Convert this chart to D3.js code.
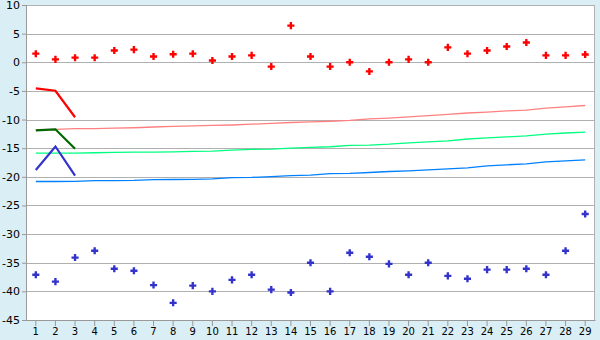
<!DOCTYPE html>
<html>
<head>
<meta charset="utf-8">
<script src="https://cdn.jsdelivr.net/npm/d3@7"></script>
<style>
  body { margin: 0; background: #d9eef5; }
  svg { display: block; font-family: Verdana, "DejaVu Sans", sans-serif; }
</style>
</head>
<body>
<div id="chart"></div>
<script>
// categories on the x axis
let categories = d3.range(1, 30);
let yTicks = [10, 5, 0, -5, -10, -15, -20, -25, -30, -35, -40, -45];

// scatter series
let redPoints = [1.5, 0.5, 0.8, 0.8, 2.05, 2.2, 1.0, 1.4, 1.5, 0.3, 1.0, 1.2, -0.75, 6.4, 1.0,
    -0.75, 0, -1.6, 0, 0.5, 0, 2.6, 1.5, 2.05, 2.75, 3.45, 1.2, 1.2, 1.35];
let bluePoints = [-37.1, -38.3, -34.1, -32.9, -36.05, -36.4, -38.9, -42.0, -39.0, -40.0, -38.0,
    -37.1, -39.7, -40.2, -35.0, -40.0, -33.25, -33.95, -35.2, -37.1, -35.0, -37.3, -37.8,
    -36.2, -36.2, -36.05, -37.1, -32.9, -26.5];

// short lines over the first three categories
let redShort = [-4.55, -4.97, -9.6];
let greenShort = [-11.9, -11.7, -15.1];
let blueShort = [-18.8, -14.7, -19.8];

// long trend lines
let pinkLine = [-11.75, -11.7, -11.6, -11.57, -11.5, -11.43, -11.3, -11.2, -11.1, -11.03, -10.95,
    -10.8, -10.68, -10.52, -10.4, -10.3, -10.15, -9.9, -9.75, -9.55, -9.33, -9.1, -8.86, -8.69,
    -8.5, -8.34, -8.0, -7.8, -7.55];
let greenLine = [-15.87, -15.87, -15.85, -15.8, -15.72, -15.7, -15.68, -15.65, -15.55, -15.5, -15.35,
    -15.2, -15.15, -15.0, -14.85, -14.75, -14.5, -14.45, -14.3, -14.07, -13.9, -13.72, -13.4,
    -13.2, -13.02, -12.85, -12.55, -12.35, -12.2];
let blueLine = [-20.82, -20.82, -20.78, -20.68, -20.65, -20.62, -20.5, -20.47, -20.45, -20.35, -20.15,
    -20.1, -19.95, -19.8, -19.72, -19.45, -19.4, -19.25, -19.07, -18.95, -18.78, -18.6, -18.43,
    -18.1, -17.9, -17.73, -17.4, -17.2, -17.03];

let width = 600, height = 340;
let margin = {top: 5, right: 5, bottom: 20, left: 26};
let innerW = width - margin.left - margin.right;
let innerH = height - margin.top - margin.bottom;

let svg = d3.select("#chart").append("svg")
    .attr("width", width)
    .attr("height", height);

svg.append("rect")
    .attr("width", width)
    .attr("height", height)
    .attr("fill", "#d9eef5");

let g = svg.append("g")
    .attr("transform", "translate(" + margin.left + "," + margin.top + ")");

let x = d3.scaleBand()
    .domain(categories)
    .range([0, innerW]);

let y = d3.scaleLinear()
    .domain([-45, 10])
    .range([innerH, 0]);

let cx = d => x(d) + x.bandwidth() / 2;

// plot background
g.append("rect")
    .attr("width", innerW)
    .attr("height", innerH)
    .attr("fill", "white");

// gridlines
g.selectAll(".grid")
    .data(yTicks)
    .enter().append("line")
    .attr("x1", 0)
    .attr("x2", innerW)
    .attr("y1", d => Math.round(y(d)) + 0.5)
    .attr("y2", d => Math.round(y(d)) + 0.5)
    .attr("stroke", "#b0b0b0")
    .attr("stroke-width", 1);

// right border
g.append("line")
    .attr("x1", innerW - 0.5)
    .attr("x2", innerW - 0.5)
    .attr("y1", 0)
    .attr("y2", innerH)
    .attr("stroke", "#b0b0b0");

// y axis (plain hyphen for negatives, like the original)
let yAxis = g.append("g")
    .call(d3.axisLeft(y).tickValues(yTicks).tickSize(4).tickPadding(2).tickFormat(d => String(d)));
yAxis.selectAll("text")
    .attr("fill", "#000")
    .style("font-size", "11px")
    .style("font-family", "Verdana, 'DejaVu Sans', sans-serif");
yAxis.selectAll("line").attr("stroke", "#999");
yAxis.select(".domain").attr("stroke", "#999");

// x axis
let xAxis = g.append("g")
    .attr("transform", "translate(0," + innerH + ")")
    .call(d3.axisBottom(x).tickSize(6).tickPadding(2).tickSizeOuter(0));
xAxis.selectAll("text")
    .attr("fill", "#000")
    .style("font-size", "10px")
    .style("font-family", "Verdana, 'DejaVu Sans', sans-serif");
xAxis.selectAll("line").attr("stroke", "#999");
xAxis.select(".domain").attr("stroke", "#999");

let line = d3.line()
    .x((d, i) => cx(categories[i]))
    .y(d => y(d));

// long lines
let longLines = [
    {data: pinkLine, color: "#ff8080"},
    {data: greenLine, color: "#00ff80"},
    {data: blueLine, color: "#0080ff"}
];
longLines.forEach(l => {
    g.append("path")
        .attr("d", line(l.data))
        .attr("fill", "none")
        .attr("stroke", l.color)
        .attr("stroke-width", 1.3);
});

// short lines
let shortLines = [
    {data: redShort, color: "#ff0000"},
    {data: greenShort, color: "#006600"},
    {data: blueShort, color: "#3333cc"}
];
shortLines.forEach(l => {
    g.append("path")
        .attr("d", line(l.data))
        .attr("fill", "none")
        .attr("stroke", l.color)
        .attr("stroke-width", 2.2);
});

// markers
let marker = d3.symbol().type(d3.symbolCross).size(28);

g.selectAll(".redPt")
    .data(redPoints)
    .enter().append("path")
    .attr("d", marker)
    .attr("transform", (d, i) => "translate(" + cx(categories[i]) + "," + y(d) + ")")
    .attr("fill", "#ff0000");

g.selectAll(".bluePt")
    .data(bluePoints)
    .enter().append("path")
    .attr("d", marker)
    .attr("transform", (d, i) => "translate(" + cx(categories[i]) + "," + y(d) + ")")
    .attr("fill", "#3333cc");
</script>
</body>
</html>
